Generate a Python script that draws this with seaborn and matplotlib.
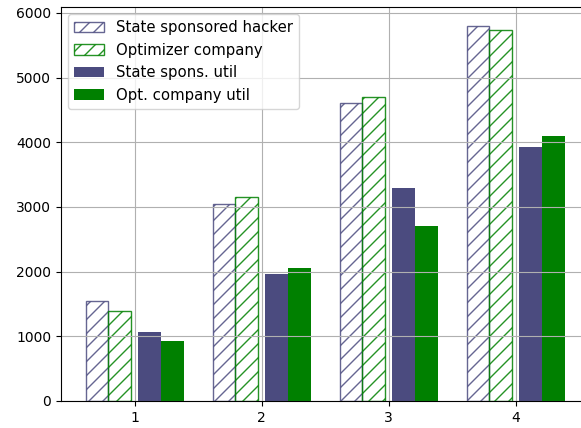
import numpy as np
import pandas as pd
import matplotlib
matplotlib.use("Agg")
import matplotlib.pyplot as plt
import seaborn as sns

# Values
groups = [1, 2, 3, 4]
state_hacker = [1550, 3040, 4610, 5800]
optimizer_company = [1390, 3160, 4700, 5730]
state_util = [1070, 1960, 3300, 3920]
opt_util = [920, 2050, 2700, 4090]

labels = ["State sponsored hacker", "Optimizer company",
          "State spons. util", "Opt. company util"]

STATE_COLOR = "#4b4b7f"
OPT_COLOR = "green"

# render at a lower dpi so the "//" hatch comes out a bit wider spaced,
# and scale point sizes back up so text and lines keep their pixel size
DPI = 84
S = 100 / DPI


def main():
    for key in ["font.size", "axes.linewidth", "grid.linewidth",
                "xtick.major.size", "xtick.major.width", "xtick.major.pad",
                "ytick.major.size", "ytick.major.width", "ytick.major.pad",
                "patch.linewidth", "hatch.linewidth"]:
        plt.rcParams[key] = plt.rcParams[key] * S

    width = 0.1775
    gap = 0.03
    offsets = [-gap - 1.5 * width, -gap - 0.5 * width,
               gap + 0.5 * width, gap + 1.5 * width]
    series = [state_hacker, optimizer_company, state_util, opt_util]
    colors = [STATE_COLOR, OPT_COLOR, STATE_COLOR, OPT_COLOR]
    hatched = [True, True, False, False]

    fig = plt.figure(figsize=(581 / DPI, 428 / DPI), dpi=DPI)
    ax = fig.add_axes([61 / 581, 27 / 428, (588 - 61) / 581, 394 / 428])

    for vals, off, col, hatch, lab in zip(series, offsets, colors, hatched, labels):
        df = pd.DataFrame({"x": np.array(groups) + off, "y": vals})
        if hatch:
            sns.barplot(data=df, x="x", y="y", native_scale=True, width=width,
                        color=col, ax=ax, label=lab, fill=False, hatch="//",
                        linewidth=1 * S, edgecolor=col, alpha=0.85)
        else:
            sns.barplot(data=df, x="x", y="y", native_scale=True, width=width,
                        color=col, ax=ax, label=lab, linewidth=0,
                        saturation=1)

    ax.set_xticks(groups)
    ax.set_xticklabels([str(g) for g in groups])
    ax.set_xlim(0.42, 4.57)
    ax.set_ylim(0, max(state_hacker) * 1.05)
    ax.set_xlabel("")
    ax.set_ylabel("")
    ax.grid(True)
    ax.legend(loc="upper left", fontsize=10.7 * S)

    fig.savefig("out.png", dpi=DPI)


if __name__ == "__main__":
    main()
